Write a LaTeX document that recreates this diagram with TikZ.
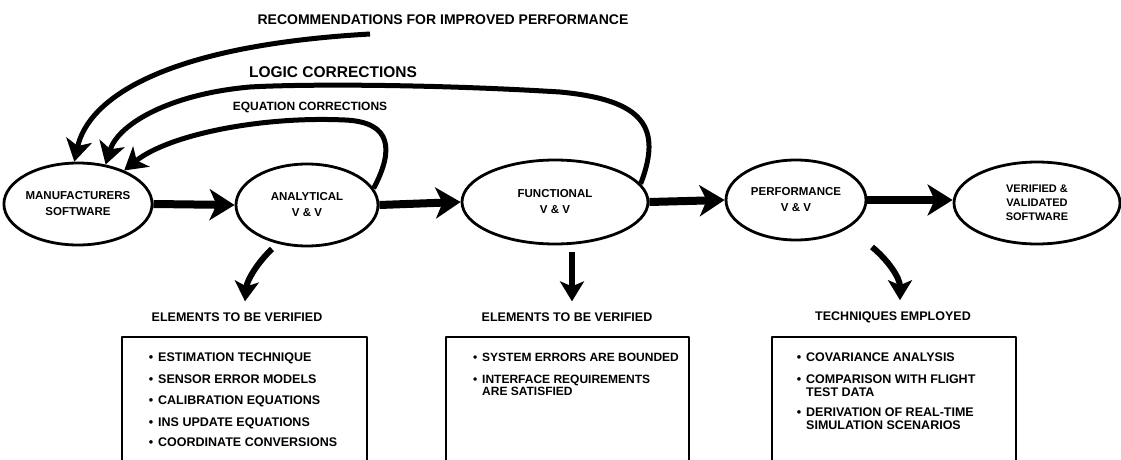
\documentclass[tikz,border=0pt]{standalone}
\usepackage{fontspec}
\setmainfont{Liberation Sans}
\usetikzlibrary{arrows.meta,shapes.geometric}

\tikzset{
  stage/.style={ellipse,draw,line width=2.8pt,inner sep=0pt,align=center,
    font=\bfseries\fontsize{11.5}{16}\selectfont},
  flow/.style={line width=8pt,-{Stealth[length=25pt,width=31pt,inset=7pt]}},
  feedback/.style={line width=5pt,-{Stealth[length=22pt,width=26pt,inset=6pt]}},
  drop/.style={line width=6pt,-{Stealth[length=20pt,width=24pt,inset=5pt]}},
  note/.style={inner sep=0pt,font=\bfseries\fontsize{14}{14}\selectfont},
  heading/.style={inner sep=0pt,font=\bfseries\fontsize{12.5}{13}\selectfont},
  entry/.style={anchor=north west,align=left,inner sep=0pt,
    font=\bfseries\fontsize{12.5}{12.5}\selectfont},
  frame/.style={line width=2.8pt,line join=round}
}
\newcommand{\bul}{\llap{\textbullet\hspace{5pt}}}

\begin{document}
\begin{tikzpicture}[x=1pt,y=-1pt]
\useasboundingbox (0,0) rectangle (1121,460);

% the stages
\node[stage,minimum width=148pt,minimum height=82pt] (manu) at (78,204) {MANUFACTURERS\\SOFTWARE};
\node[stage,minimum width=142pt,minimum height=82pt] (ana) at (307,205) {ANALYTICAL\\V \& V};
\node[stage,minimum width=186pt,minimum height=84pt] (func) at (555,202) {FUNCTIONAL\\V \& V};
\node[stage,minimum width=140pt,minimum height=80pt] (perf) at (796,200) {PERFORMANCE\\V \& V};
\node[stage,minimum width=166pt,minimum height=82pt,font=\bfseries\fontsize{11}{14}\selectfont] (veri) at (1037,203) {VERIFIED \&\\VALIDATED\\SOFTWARE};

% main flow
\draw[flow] (manu.east) -- (ana.west);
\draw[flow] (ana.east) -- (func.west);
\draw[flow] (func.east) -- (perf.west);
\draw[flow] (perf.east) -- (perf.east -| veri.west);

% feedback loops
\coordinate (recstart) at (370,34);
\draw[feedback] (recstart) .. controls (160,46) and (88,100) .. (manu.95);
\draw[feedback] (func.12) .. controls (662,128) and (645,100) .. (560,92)
  .. controls (430,84) and (300,84) .. (250,87)
  .. controls (170,94) and (118,124) .. (manu.55);
\draw[feedback] (ana.14) .. controls (394,150) and (392,122) .. (345,120)
  .. controls (260,116) and (168,135) .. (manu.36);

\node[note] (recnote) at (443,20) {RECOMMENDATIONS FOR IMPROVED PERFORMANCE};
\node[note,font=\bfseries\fontsize{15.5}{15.5}\selectfont] (logicnote) at (333,72) {LOGIC CORRECTIONS};
\node[note,font=\bfseries\fontsize{12}{12}\selectfont] (eqnote) at (310,107) {EQUATION CORRECTIONS};

% headings under the stages
\node[heading] (cap1) at (237,317) {ELEMENTS TO BE VERIFIED};
\node[heading] (cap2) at (567,317) {ELEMENTS TO BE VERIFIED};
\node[heading] (cap3) at (893,317) {TECHNIQUES EMPLOYED};

\coordinate (anadrop) at (272,249);
\coordinate (funcdrop) at (572,252);
\coordinate (perfdrop) at (872,247);
\draw[drop] (anadrop) .. controls (258,262) and (247,280) .. ([xshift=8pt,yshift=11pt]cap1.north);
\draw[drop] (funcdrop) -- ([xshift=5pt,yshift=11pt]cap2.north);
\draw[drop] (perfdrop) .. controls (888,260) and (900,278) .. ([xshift=7pt,yshift=11pt]cap3.north);

% the lists
\draw[frame] (122,460) |- (367,337) -- (367,460);
\draw[frame] (446,460) |- (689,337) -- (689,460);
\draw[frame] (772,460) |- (1016,337) -- (1016,460);

\node[entry] (a1) at (158,353) {\bul ESTIMATION TECHNIQUE};
\node[entry] (a2) at (158,375) {\bul SENSOR ERROR MODELS};
\node[entry] (a3) at (158,396) {\bul CALIBRATION EQUATIONS};
\node[entry] (a4) at (158,418) {\bul INS UPDATE EQUATIONS};
\node[entry] (a5) at (158,438) {\bul COORDINATE CONVERSIONS};

\node[entry,font=\bfseries\fontsize{12}{12}\selectfont] (f1) at (482,353) {\bul SYSTEM ERRORS ARE BOUNDED};
\node[entry,font=\bfseries\fontsize{12}{12}\selectfont] (f2) at (482,375) {\bul INTERFACE REQUIREMENTS\\ARE SATISFIED};

\node[entry] (p1) at (806,353) {\bul COVARIANCE ANALYSIS};
\node[entry] (p2) at (806,375) {\bul COMPARISON WITH FLIGHT\\TEST DATA};
\node[entry] (p3) at (806,408) {\bul DERIVATION OF REAL-TIME\\SIMULATION SCENARIOS};
\end{tikzpicture}
\end{document}
